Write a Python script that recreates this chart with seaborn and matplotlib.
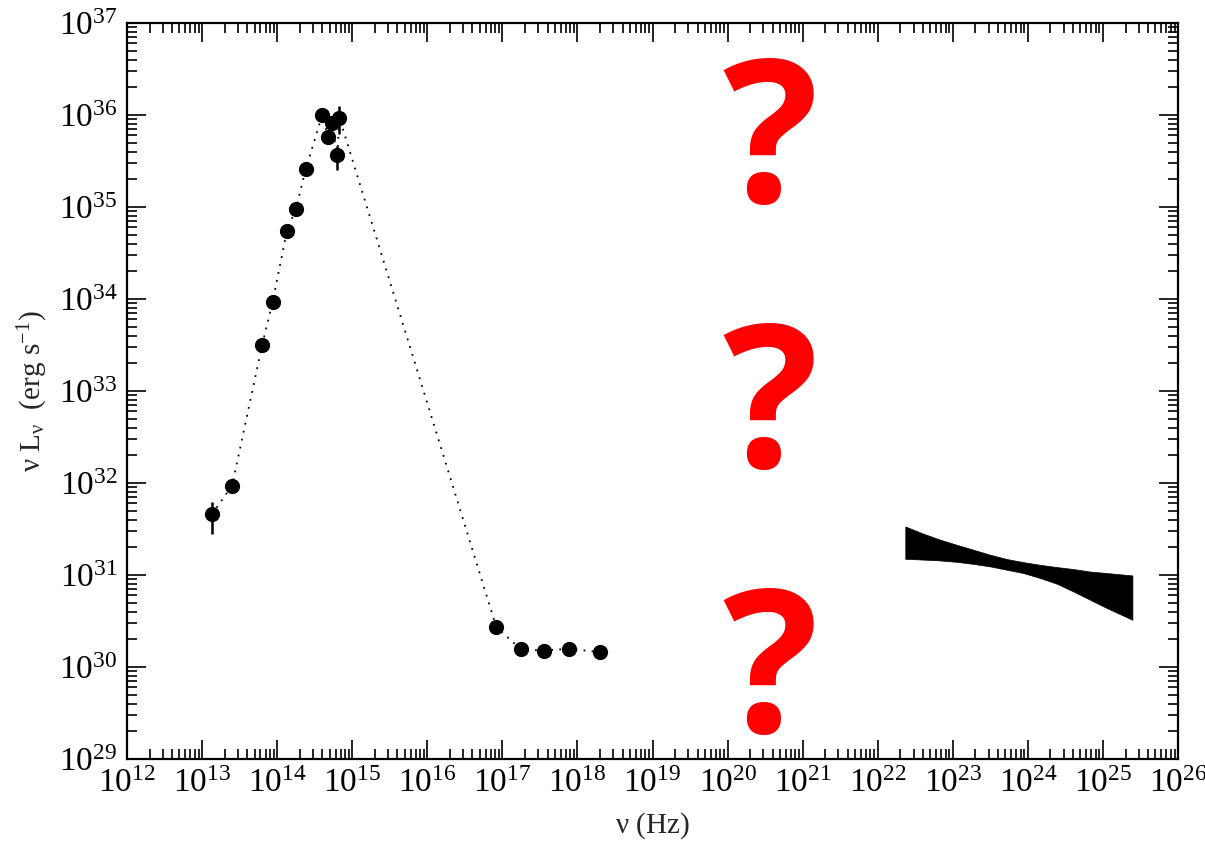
import numpy as np
import pandas as pd
import matplotlib
matplotlib.use("Agg")
import matplotlib.pyplot as plt
import seaborn as sns
from matplotlib.ticker import LogLocator, NullFormatter

# ─────────────────────────────────────────────
# DATA
# ─────────────────────────────────────────────
nu = [1.35e13, 2.51e13, 6.31e13, 8.71e13, 1.35e14, 1.78e14, 2.40e14, 3.98e14,
      4.79e14, 5.37e14, 6.31e14, 6.76e14, 8.32e16, 1.78e17, 3.55e17, 7.76e17, 2.0e18]
nuLnu = [4.57e31, 9.33e31, 3.16e33, 9.33e33, 5.50e34, 9.55e34, 2.57e35, 1.0e36,
         5.75e35, 8.13e35, 3.63e35, 9.33e35, 2.69e30, 1.55e30, 1.51e30, 1.58e30, 1.45e30]

# points that carry error bars
err_nu = [1.35e13, 6.31e14, 6.76e14]
err_val = [4.57e31, 3.63e35, 9.33e35]
err_hi = [6.17e31, 4.57e35, 1.26e36]
err_lo = [2.82e31, 2.51e35, 6.17e35]

# gamma-ray butterfly (upper / lower edges)
bow_nu = [2.33e22, 4.07e22, 6.79e22, 1.13e23, 1.89e23, 3.15e23, 5.25e23,
          8.73e23, 1.46e24, 2.43e24, 4.05e24, 6.75e24, 1.13e25, 2.47e25]
bow_up = [3.37e31, 2.81e31, 2.42e31, 2.13e31, 1.88e31, 1.66e31, 1.49e31,
          1.38e31, 1.29e31, 1.22e31, 1.16e31, 1.09e31, 1.05e31, 9.89e30]
bow_lo = [1.50e31, 1.47e31, 1.44e31, 1.39e31, 1.32e31, 1.24e31, 1.14e31,
          1.05e31, 9.27e30, 8.04e30, 6.62e30, 5.38e30, 4.37e30, 3.26e30]

df = pd.DataFrame({"nu": nu, "nuLnu": nuLnu})

# ─────────────────────────────────────────────
# STYLE
# ─────────────────────────────────────────────
sns.set_style("ticks")
plt.rcParams["font.family"] = ["Liberation Serif", "DejaVu Serif"]
plt.rcParams["mathtext.fontset"] = "custom"
plt.rcParams["mathtext.rm"] = "Liberation Serif"
plt.rcParams["mathtext.it"] = "Liberation Serif:italic"
plt.rcParams["mathtext.bf"] = "Open Sans:bold"

fig = plt.figure(figsize=(12.05, 8.41), dpi=100)
ax = fig.add_axes([127 / 1205, 1 - 759 / 841, (1178 - 127) / 1205, (759 - 23) / 841])

sns.lineplot(data=df, x="nu", y="nuLnu", ax=ax, color="black", linestyle=(0, (1, 3.5)),
             linewidth=1.3, sort=True)
sns.scatterplot(data=df, x="nu", y="nuLnu", ax=ax, color="black", s=120,
                edgecolor="black", linewidth=0, zorder=3)

yerr = [np.array(err_val) - np.array(err_lo), np.array(err_hi) - np.array(err_val)]
ax.errorbar(err_nu, err_val, yerr=yerr, fmt="none", ecolor="black", elinewidth=1.8,
            capsize=0, zorder=2)

ax.fill_between(bow_nu, bow_lo, bow_up, color="black", linewidth=0.5, edgecolor="black")

ax.set_xscale("log")
ax.set_yscale("log")
ax.set_xlim(1e12, 1e26)
ax.set_ylim(1e29, 1e37)

ax.xaxis.set_major_locator(LogLocator(base=10, numticks=20))
ax.yaxis.set_major_locator(LogLocator(base=10, numticks=20))
ax.xaxis.set_minor_locator(LogLocator(base=10, subs=np.arange(2, 10), numticks=200))
ax.yaxis.set_minor_locator(LogLocator(base=10, subs=np.arange(2, 10), numticks=200))
ax.xaxis.set_minor_formatter(NullFormatter())
ax.yaxis.set_minor_formatter(NullFormatter())

ax.tick_params(which="both", direction="in", top=True, right=True, width=1.2, colors="black")
ax.tick_params(which="major", length=14, labelsize=24, pad=7)
ax.tick_params(which="minor", length=7)
for sp in ax.spines.values():
    sp.set_linewidth(1.6)
    sp.set_color("black")

ax.set_xlabel(r"$\mathregular{\nu}$ (Hz)", fontsize=21, labelpad=8)
ax.set_ylabel(r"$\mathregular{\nu}$ L$_{\mathregular{\nu}}$  (erg s$^{\mathregular{-1}}$)",
              fontsize=21, labelpad=6)

# question marks
for ybase in [202, 467, 732]:
    fig.text(768 / 1205, 1 - ybase / 841, r"$\mathbf{?}$", color="#ff0000", fontsize=144,
             ha="center", va="baseline")

fig.savefig("out.png", dpi=100)
